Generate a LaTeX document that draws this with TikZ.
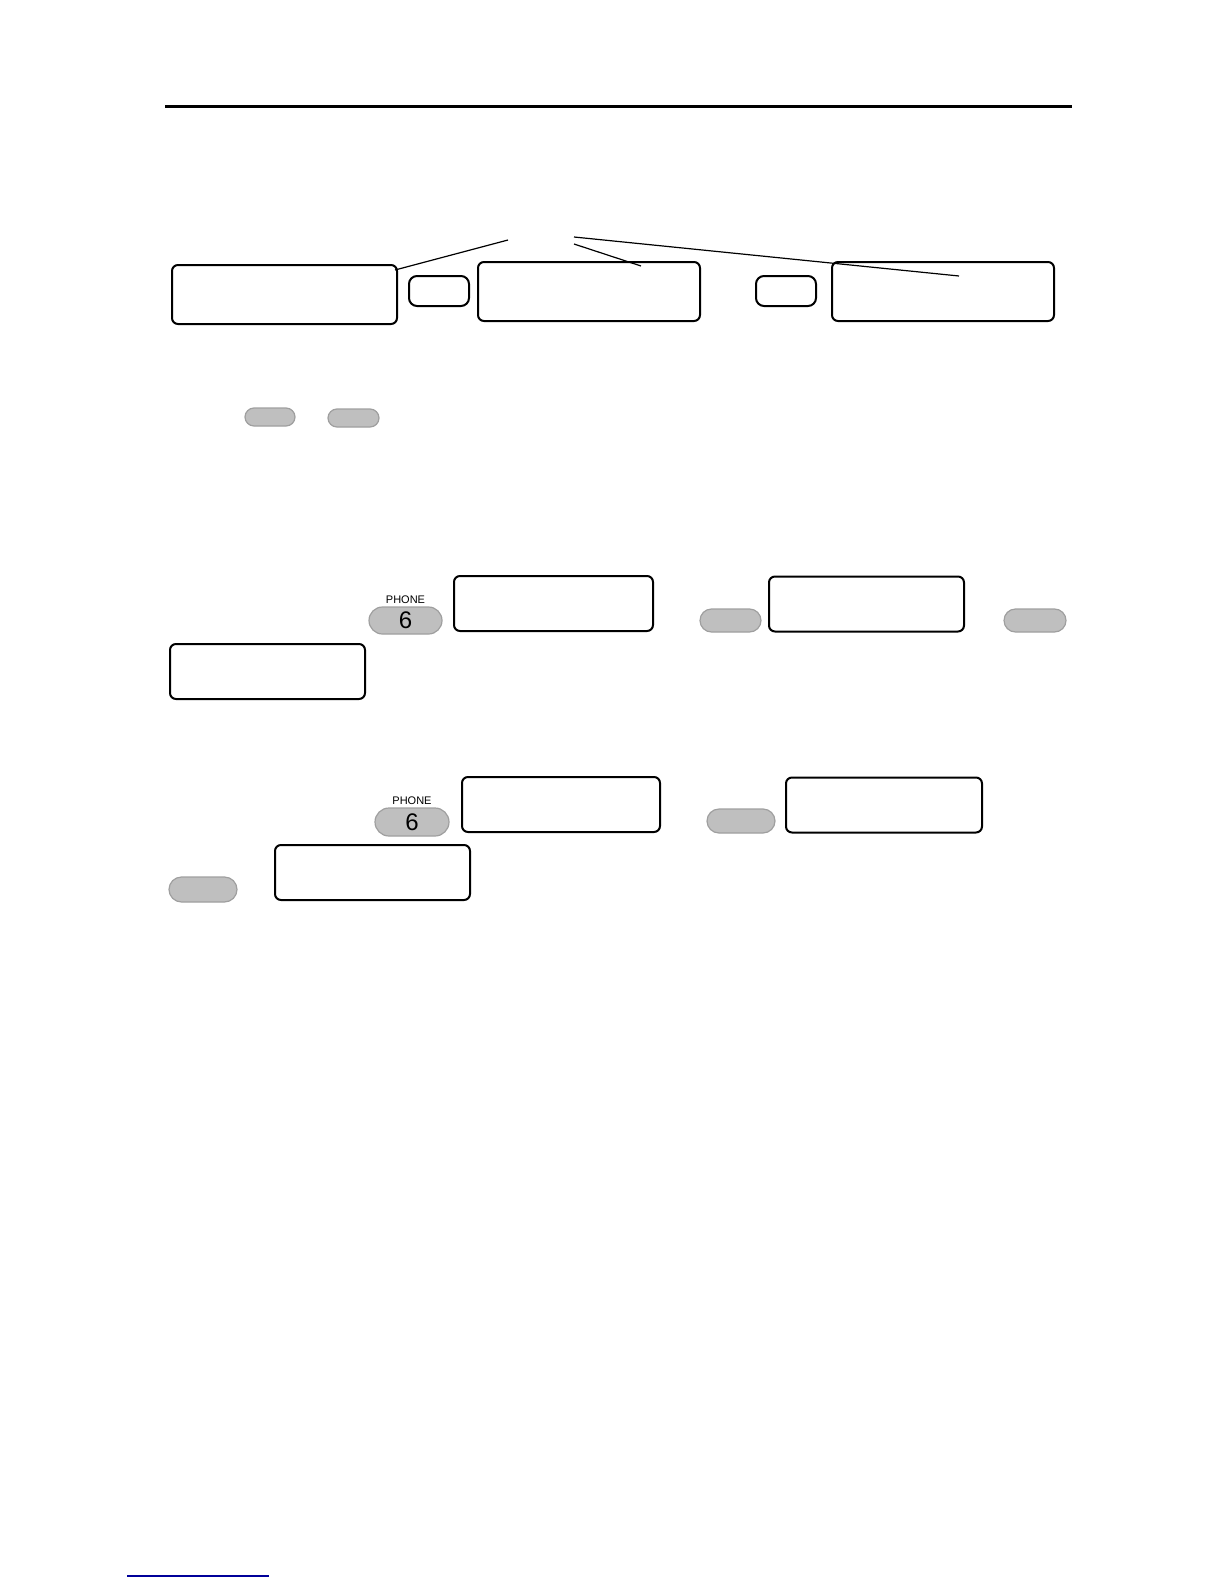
\documentclass[tikz,border=0pt]{standalone}
\usepackage{fontspec}
\setsansfont{Liberation Sans}
\usetikzlibrary{positioning, shapes.misc}

\tikzset{
	screen/.style={draw, line width=1pt, rounded corners=3pt, inner sep=0pt,
		minimum width=#1, minimum height=27.5pt},
	softkey/.style={draw, line width=1pt, rounded corners=4pt, inner sep=0pt,
		minimum width=30pt, minimum height=15pt},
	pill/.style={rounded rectangle, draw=gray!75, fill=gray!50, line width=0.6pt,
		inner sep=0pt, minimum width=#1},
	keylabel/.style={font=\sffamily\fontsize{5.5}{6}\selectfont, inner sep=0pt}
}

\begin{document}
\begin{tikzpicture}[x=0.5pt, y=-0.5pt]
	\useasboundingbox (0,0) rectangle (1224,1584);
	\draw[line width=1.5pt] (165,107) -- (1072,107);
	
	% first row
	\node[screen=112.5pt, minimum height=29.5pt] (lcd1) at (284.5,294.5) {};
	\node[softkey] (sk1) at (439,291) {};
	\node[screen=111pt, minimum height=29.5pt] (lcd2) at (589,291.5) {};
	\node[softkey] (sk2) at (786,291) {};
	\node[screen=111pt, minimum height=29.5pt] (lcd3) at (943,291.5) {};
	
	\coordinate (c1) at (508,240);
	\coordinate (c2) at (574,244);
	\coordinate (c3) at (574,237);
	\draw[line width=0.6pt] (c1) -- ([xshift=-1.5pt,yshift=-3pt]lcd1.north east)
	(c2) -- ([xshift=26pt,yshift=-2.5pt]lcd2.north)
	(c3) -- ([xshift=8pt,yshift=-7.5pt]lcd3.north);
	
	\node[pill=25pt, minimum height=9pt] (k1) at (270,417) {};
	\node[pill=25.5pt, minimum height=9pt] (k2) at (353.5,418) {};
	
	% second row
	\node[pill=36.5pt, minimum height=13.5pt, font=\sffamily\fontsize{12}{12}\selectfont] (six1) at (405.5,620.5) {6};
	\node[keylabel, above=1pt of six1] (ph1) {PHONE};
	\node[screen=99.5pt] (lcdA) at (553.5,603.5) {};
	\node[pill=30.5pt, minimum height=11.5pt] (k3) at (730.5,620.5) {};
	\node[screen=97.5pt] (lcdB) at (866.5,604) {};
	\node[pill=31pt, minimum height=11.5pt] (k4) at (1035,620.5) {};
	\node[screen=97.5pt] (lcdC) at (267.5,671.5) {};
	
	% third row
	\node[pill=37pt, minimum height=14pt, font=\sffamily\fontsize{12}{12}\selectfont] (six2) at (412,822) {6};
	\node[keylabel, above=1pt of six2] (ph2) {PHONE};
	\node[screen=99pt] (lcdD) at (561,804.5) {};
	\node[pill=34pt, minimum height=12pt] (k5) at (741,821) {};
	\node[screen=98pt] (lcdE) at (884,805) {};
	\node[pill=34pt, minimum height=12.5pt] (k6) at (203,889.5) {};
	\node[screen=97.5pt] (lcdF) at (372.5,872.5) {};
	
	\draw[blue!60!black, line width=0.8pt] (127,1576) -- (269,1576);
\end{tikzpicture}
\end{document}
